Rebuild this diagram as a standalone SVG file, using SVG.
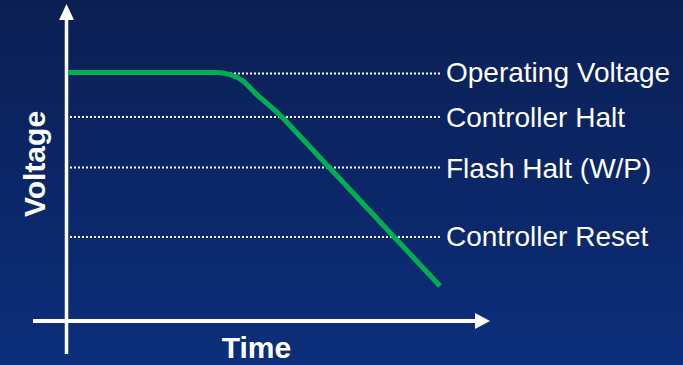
<svg xmlns="http://www.w3.org/2000/svg" width="683" height="365" viewBox="0 0 683 365">
  <defs>
    <linearGradient id="bg" x1="0" y1="0" x2="0" y2="1">
      <stop offset="0" stop-color="#0b1f53"/>
      <stop offset="1" stop-color="#0c2e7b"/>
    </linearGradient>
    <style>
      .dot { stroke: #ffffff; stroke-width: 2; stroke-dasharray: 2 2; fill: none; }
      .axis { stroke: #ffffff; stroke-width: 4; fill: none; }
      .lbl { font-family: "Liberation Sans", Arial, sans-serif; font-size: 28px; fill: #ffffff; }
      .ttl { font-family: "Liberation Sans", Arial, sans-serif; font-size: 30px; font-weight: bold; fill: #ffffff; }
      .curve { stroke: #00b050; stroke-width: 5; fill: none; stroke-linejoin: round; }
    </style>
  </defs>
  <rect x="0" y="0" width="683" height="365" fill="url(#bg)"/>

  <g id="connectors">
    <line class="dot" x1="70" y1="73.5" x2="441" y2="73.5"/>
    <line class="dot" x1="70" y1="117" x2="441" y2="117"/>
    <line class="dot" x1="70" y1="167.5" x2="441" y2="167.5"/>
    <line class="dot" x1="70" y1="237" x2="441" y2="237"/>
  </g>

  <g id="y-axis">
    <line class="axis" x1="66.5" y1="18" x2="66.5" y2="354" style="stroke-width:3.5"/>
    <polygon points="66.5,4 74,20 59,20" fill="#ffffff"/>
    <text class="ttl" transform="translate(45,164) rotate(-90)" text-anchor="middle">Voltage</text>
  </g>

  <g id="x-axis">
    <line class="axis" x1="33" y1="321" x2="477" y2="321"/>
    <polygon points="490,321 475,313 475,329" fill="#ffffff"/>
    <text class="ttl" x="256.5" y="358" text-anchor="middle">Time</text>
  </g>

  <g id="voltage-curve">
    <path class="curve" d="M68,72.5 L215,72.5 C226,72.5 236,76 243,81 C250,87 256,95 263,100 C270,106 276,111 283,118 L440,286"/>
  </g>

  <g id="label-operating">
    <text class="lbl" x="446" y="81.5">Operating Voltage</text>
  </g>
  <g id="label-controller-halt">
    <text class="lbl" x="446" y="126.5">Controller Halt</text>
  </g>
  <g id="label-flash-halt">
    <text class="lbl" x="446" y="177.5">Flash Halt (W/P)</text>
  </g>
  <g id="label-controller-reset">
    <text class="lbl" x="446" y="245.5">Controller Reset</text>
  </g>
</svg>
